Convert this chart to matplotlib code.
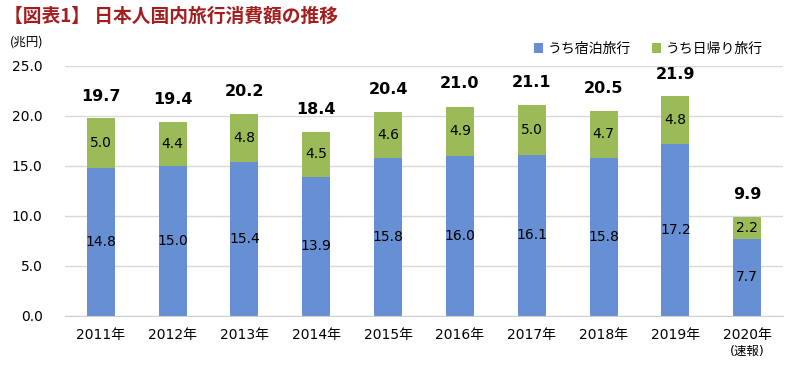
import matplotlib.pyplot as plt
from matplotlib.transforms import blended_transform_factory

plt.rcParams['font.family'] = ['DejaVu Sans', 'Noto Sans CJK JP']

years = ['2011年', '2012年', '2013年', '2014年', '2015年', '2016年', '2017年', '2018年', '2019年', '2020年']
note = '(速報)'
stay = [14.8, 15.0, 15.4, 13.9, 15.8, 16.0, 16.1, 15.8, 17.2, 7.7]
day_trip = [5.0, 4.4, 4.8, 4.5, 4.6, 4.9, 5.0, 4.7, 4.8, 2.2]
totals = [19.7, 19.4, 20.2, 18.4, 20.4, 21.0, 21.1, 20.5, 21.9, 9.9]
yticks = [0, 5, 10, 15, 20, 25]

blue = '#6690D3'
green = '#9BBB59'

fig = plt.figure(figsize=(8, 3.66), dpi=100)
ax = fig.add_axes([0.081, 0.137, 0.898, 0.683])

x = range(len(years))
ax.bar(x, stay, width=0.39, color=blue, label='うち宿泊旅行', zorder=2)
ax.bar(x, day_trip, width=0.39, bottom=stay, color=green, label='うち日帰り旅行', zorder=2)

for i in x:
    ax.text(i, stay[i] / 2, f'{stay[i]:.1f}', ha='center', va='center', fontsize=10, zorder=3)
    ax.text(i, stay[i] + day_trip[i] / 2, f'{day_trip[i]:.1f}', ha='center', va='center', fontsize=10, zorder=3)
    ax.text(i, totals[i] + 2.2, f'{totals[i]:.1f}', ha='center', va='center', fontsize=11.5, fontweight='bold')

ax.set_xlim(-0.5, 9.5)
ax.set_ylim(0, 25)
ax.set_yticks(yticks)
ax.set_yticklabels([f'{v:.1f}' for v in yticks], fontsize=10)
ax.set_xticks(list(x))
ax.set_xticklabels(years, fontsize=10)
ax.tick_params(length=0, pad=9)
ax.tick_params(axis='y', pad=16)
ax.yaxis.grid(True, color='#D9D9D9', linewidth=1, zorder=0)
for s in ['top', 'right', 'left']:
    ax.spines[s].set_visible(False)
ax.spines['bottom'].set_color('#D0D0D0')

trans = blended_transform_factory(ax.transData, ax.transAxes)
ax.text(len(years) - 1, -0.143, note, transform=trans, ha='center', va='center', fontsize=9)

ax.legend(loc='lower right', bbox_to_anchor=(0.985, 1.0), ncol=2, frameon=False, fontsize=10,
          handlelength=0.7, handleheight=0.7, handletextpad=0.3, columnspacing=1.5, borderaxespad=0.3)

fig.text(0.005, 0.955, '【図表1】 日本人国内旅行消費額の推移', fontsize=13.5, fontweight='bold', color='#A31F1F',
         va='center', family=['Noto Sans CJK JP'])
fig.text(0.012, 0.885, '(兆円)', fontsize=9, va='center', family=['Noto Sans CJK JP'])

fig.savefig('out.png', dpi=100)
